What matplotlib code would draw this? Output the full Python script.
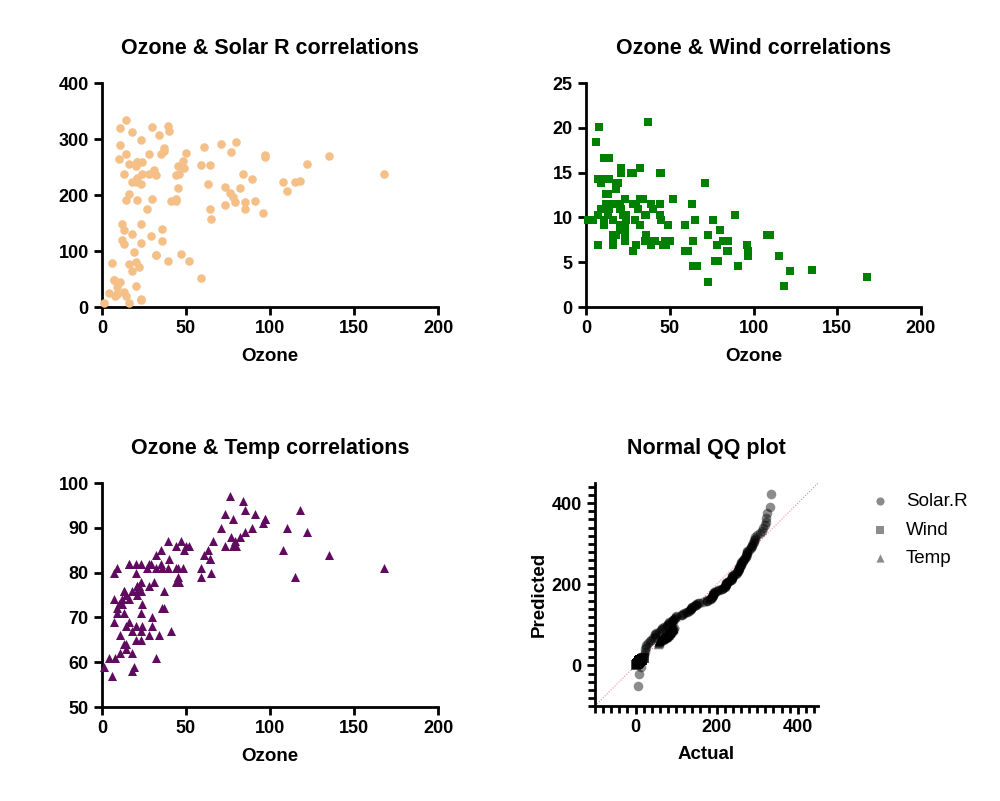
import numpy as np
import matplotlib
matplotlib.use("Agg")
import matplotlib.pyplot as plt
from matplotlib.ticker import MultipleLocator
from statistics import NormalDist

plt.rcParams['font.family'] = ['Liberation Sans', 'DejaVu Sans']

nan = np.nan

# airquality data set (Ozone, Solar.R, Wind, Temp), NaN = missing
ozone = [41, 36, 12, 18, nan, 28, 23, 19, 8, nan, 7, 16, 11, 14, 18, 14, 34, 6, 30, 11,
         1, 11, 4, 32, nan, nan, nan, 23, 45, 115, 37, nan, nan, nan, nan, nan, nan, 29, nan, 71,
         39, nan, nan, 23, nan, nan, 21, 37, 20, 12, 13, nan, nan, nan, nan, nan, nan, nan, nan, nan,
         nan, 135, 49, 32, nan, 64, 40, 77, 97, 97, 85, nan, 10, 27, nan, 7, 48, 35, 61, 79,
         63, 16, nan, nan, 80, 108, 20, 52, 82, 50, 64, 59, 39, 9, 16, 78, 35, 66, 122, 89,
         110, nan, nan, 44, 28, 65, nan, 22, 59, 23, 31, 44, 21, 9, nan, 45, 168, 73, nan, 76,
         118, 84, 85, 96, 78, 73, 91, 47, 32, 20, 23, 21, 24, 44, 21, 28, 9, 13, 46, 18,
         13, 24, 16, 13, 23, 36, 7, 14, 30, nan, 14, 18, 20]
solar = [190, 118, 149, 313, nan, nan, 299, 99, 19, 194, nan, 256, 290, 274, 65, 334, 307, 78, 322, 44,
         8, 320, 25, 92, 66, 266, nan, 13, 252, 223, 279, 286, 287, 242, 186, 220, 264, 127, 273, 291,
         323, 259, 250, 148, 332, 322, 191, 284, 37, 120, 137, 150, 59, 91, 250, 135, 127, 47, 98, 31,
         138, 269, 248, 236, 101, 175, 314, 276, 267, 272, 175, 139, 264, 175, 291, 48, 260, 274, 285, 187,
         220, 7, 258, 295, 294, 223, 81, 82, 213, 275, 253, 254, 83, 24, 77, nan, nan, nan, 255, 229,
         207, 222, 137, 192, 273, 157, 64, 71, 51, 115, 244, 190, 259, 36, 255, 212, 238, 215, 153, 203,
         225, 237, 188, 167, 197, 183, 189, 95, 92, 252, 220, 230, 259, 236, 259, 238, 24, 112, 237, 224,
         27, 238, 201, 238, 14, 139, 49, 20, 193, 145, 191, 131, 223]
wind = [7.4, 8.0, 12.6, 11.5, 14.3, 14.9, 8.6, 13.8, 20.1, 8.6, 6.9, 9.7, 9.2, 10.9, 13.2, 11.5, 12.0, 18.4, 11.5, 9.7,
        9.7, 16.6, 9.7, 12.0, 16.6, 14.9, 8.0, 12.0, 14.9, 5.7, 7.4, 8.6, 9.7, 16.1, 9.2, 8.6, 14.3, 9.7, 6.9, 13.8,
        11.5, 10.9, 9.2, 8.0, 13.8, 11.5, 14.9, 20.7, 9.2, 11.5, 10.3, 6.3, 1.7, 4.6, 6.3, 8.0, 8.0, 10.3, 11.5, 14.9,
        8.0, 4.1, 9.2, 9.2, 10.9, 4.6, 10.9, 5.1, 6.3, 5.7, 7.4, 8.6, 14.3, 14.9, 14.9, 14.3, 6.9, 10.3, 6.3, 5.1,
        11.5, 6.9, 9.7, 11.5, 8.6, 8.0, 8.6, 12.0, 7.4, 7.4, 7.4, 9.2, 6.9, 13.8, 7.4, 6.9, 7.4, 4.6, 4.0, 10.3,
        8.0, 8.6, 11.5, 11.5, 11.5, 9.7, 11.5, 10.3, 6.3, 7.4, 10.9, 10.3, 15.5, 14.3, 12.6, 9.7, 3.4, 8.0, 5.7, 9.7,
        2.3, 6.3, 6.3, 6.9, 5.1, 2.8, 4.6, 7.4, 15.5, 10.9, 10.3, 10.9, 9.7, 14.9, 15.5, 6.3, 10.9, 11.5, 6.9, 13.8,
        10.3, 10.3, 8.0, 12.6, 9.2, 10.3, 10.3, 16.6, 6.9, 13.2, 14.3, 8.0, 11.5]
temp = [67, 72, 74, 62, 56, 66, 65, 59, 61, 69, 74, 69, 66, 68, 58, 64, 66, 57, 68, 62,
        59, 73, 61, 61, 57, 58, 57, 67, 81, 79, 76, 78, 74, 67, 84, 85, 79, 82, 87, 90,
        87, 93, 92, 82, 80, 79, 77, 72, 65, 73, 76, 77, 76, 76, 76, 75, 78, 73, 80, 77,
        83, 84, 85, 81, 84, 83, 83, 88, 92, 92, 89, 82, 73, 81, 91, 80, 81, 82, 84, 87,
        85, 74, 81, 82, 86, 85, 82, 86, 88, 86, 83, 81, 81, 81, 82, 86, 85, 87, 89, 90,
        90, 92, 86, 86, 82, 80, 79, 77, 79, 76, 78, 78, 77, 72, 75, 79, 81, 86, 88, 97,
        94, 96, 94, 91, 92, 93, 93, 87, 84, 80, 78, 75, 73, 81, 76, 77, 71, 71, 78, 67,
        76, 68, 82, 64, 71, 81, 69, 63, 70, 77, 75, 76, 68]

ozone = np.array(ozone, dtype=float)
solar = np.array(solar, dtype=float)
wind = np.array(wind, dtype=float)
temp = np.array(temp, dtype=float)

solar_color = '#F4C088'
wind_color = '#008000'
temp_color = '#600A60'


def style_axis(ax):
    for side in ['top', 'right']:
        ax.spines[side].set_visible(False)
    for side in ['left', 'bottom']:
        ax.spines[side].set_linewidth(2)
    ax.tick_params(width=2, length=6, labelsize=13, direction='out')
    for lab in ax.get_xticklabels() + ax.get_yticklabels():
        lab.set_fontweight('bold')


def qq_points(values):
    v = np.sort(values[~np.isnan(values)])
    n = len(v)
    nd = NormalDist(np.mean(v), np.std(v, ddof=1))
    pred = np.array([nd.inv_cdf((i - 0.375) / (n + 0.25)) for i in range(1, n + 1)])
    return v, pred


fig = plt.figure(figsize=(10, 8.01), dpi=100)
W, H = 1000, 801


def add_axes(x0, x1, ytop, ybot):
    return fig.add_axes([x0 / W, 1 - ybot / H, (x1 - x0) / W, (ybot - ytop) / H])


title_kw = dict(fontsize=15.5, fontweight='bold', pad=21)
label_kw = dict(fontsize=13.5, fontweight='bold', labelpad=8)

# Ozone vs Solar R
ax1 = add_axes(102, 438, 83, 307)
m = ~np.isnan(ozone) & ~np.isnan(solar)
ax1.scatter(ozone[m], solar[m], s=38, color=solar_color, marker='o', linewidths=0, clip_on=False, zorder=3)
ax1.set_xlim(0, 200)
ax1.set_ylim(0, 400)
ax1.set_xticks([0, 50, 100, 150, 200])
ax1.set_yticks([0, 100, 200, 300, 400])
ax1.set_xlabel('Ozone', **label_kw)
ax1.set_title('Ozone & Solar R correlations', **title_kw)
style_axis(ax1)

# Ozone vs Wind
ax2 = add_axes(586, 921, 83, 307)
m = ~np.isnan(ozone) & ~np.isnan(wind)
ax2.scatter(ozone[m], wind[m], s=34, color=wind_color, marker='s', linewidths=0, clip_on=False, zorder=3)
ax2.set_xlim(0, 200)
ax2.set_ylim(0, 25)
ax2.set_xticks([0, 50, 100, 150, 200])
ax2.set_yticks([0, 5, 10, 15, 20, 25])
ax2.set_xlabel('Ozone', **label_kw)
ax2.set_title('Ozone & Wind correlations', **title_kw)
style_axis(ax2)

# Ozone vs Temp
ax3 = add_axes(102, 438, 483, 707)
m = ~np.isnan(ozone) & ~np.isnan(temp)
ax3.scatter(ozone[m], temp[m], s=42, color=temp_color, marker='^', linewidths=0, clip_on=False, zorder=3)
ax3.set_xlim(0, 200)
ax3.set_ylim(50, 100)
ax3.set_xticks([0, 50, 100, 150, 200])
ax3.set_yticks([50, 60, 70, 80, 90, 100])
ax3.set_xlabel('Ozone', **label_kw)
ax3.set_title('Ozone & Temp correlations', **title_kw)
style_axis(ax3)

# Normal QQ plot
ax4 = add_axes(595, 818, 483, 706)
ax4.plot([-100, 450], [-100, 450], color='#F08890', linestyle=(0, (1, 1.5)), linewidth=0.8, zorder=1)
for vals, mk, lab in [(solar, 'o', 'Solar.R'), (wind, 's', 'Wind'), (temp, '^', 'Temp')]:
    a, p = qq_points(vals)
    ax4.scatter(a, p, s=48, color='#000000', alpha=0.45, marker=mk, linewidths=0, label=lab, zorder=3)
ax4.set_xlim(-100, 450)
ax4.set_ylim(-100, 450)
ax4.set_xticks([0, 200, 400])
ax4.set_yticks([0, 200, 400])
ax4.xaxis.set_minor_locator(MultipleLocator(20))
ax4.yaxis.set_minor_locator(MultipleLocator(20))
ax4.tick_params(which='minor', width=2, length=5)
ax4.set_xlabel('Actual', fontsize=13.5, fontweight='bold', labelpad=7)
ax4.set_ylabel('Predicted', fontsize=13.5, fontweight='bold', labelpad=3)
ax4.set_title('Normal QQ plot', **title_kw)
style_axis(ax4)
leg = ax4.legend(loc='upper left', bbox_to_anchor=(1.12, 1.03), frameon=False, fontsize=13.5,
                 handletextpad=0.35, labelspacing=0.6, markerscale=0.85)

fig.savefig('out.png', dpi=100)
